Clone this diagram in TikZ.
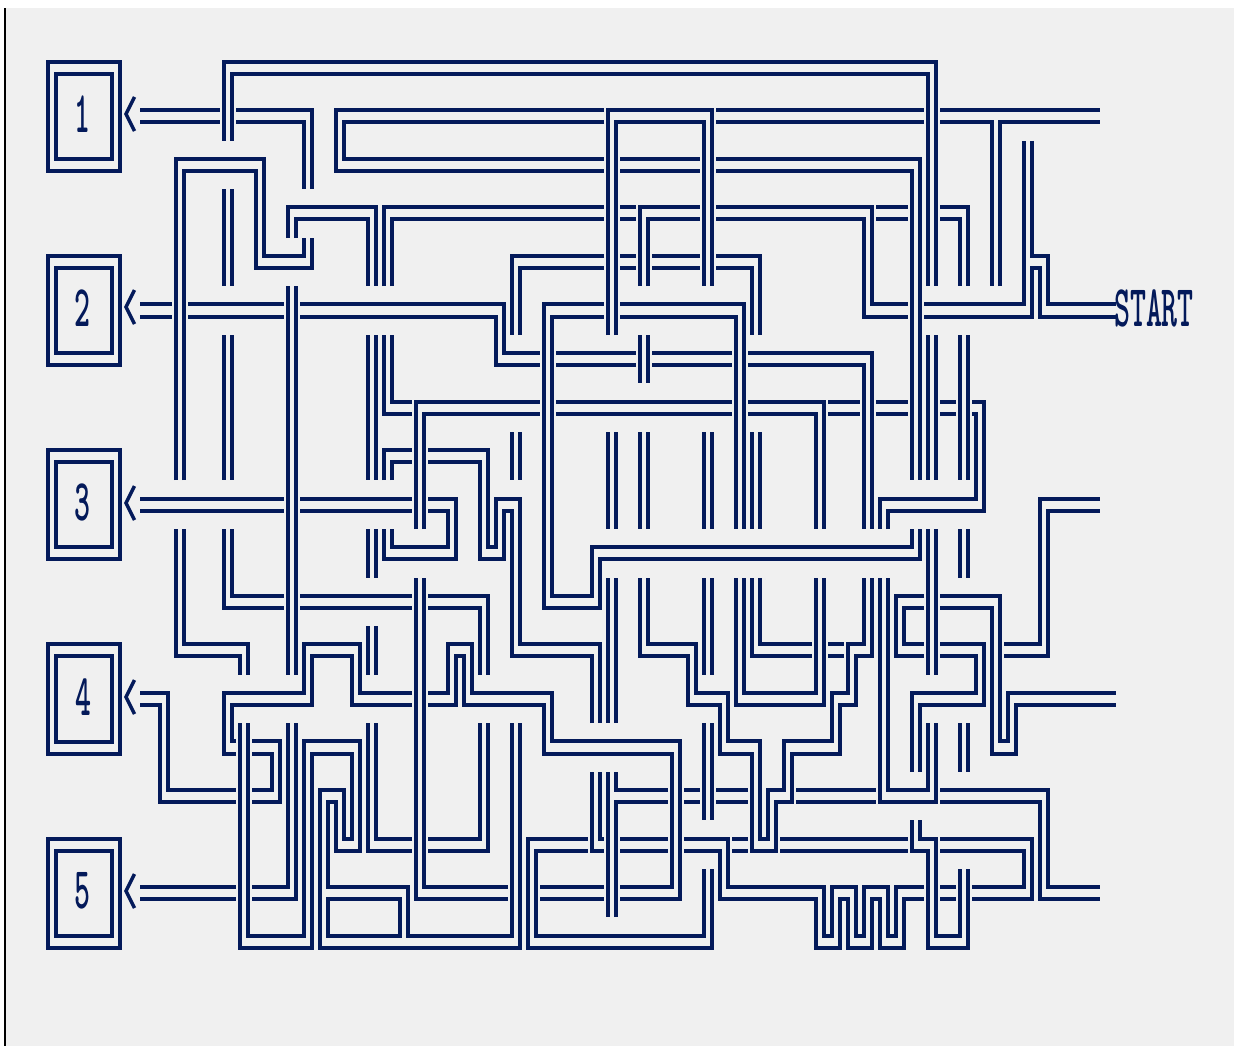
\documentclass[tikz,border=0pt]{standalone}
\usepackage{fontspec}
\definecolor{navy}{HTML}{041A5A}
\definecolor{panel}{HTML}{F0F0F0}
\newcommand{\wl}[1]{\draw[wire] plot coordinates {#1};}
\newcommand{\narrow}[1]{\scalebox{.515}[1]{#1}}
\tikzset{
  wire/.style={draw=navy,line width=4pt,line cap=butt,line join=miter,miter limit=10},
  chev/.style={draw=navy,line width=3.4pt,line cap=butt,line join=miter},
  lab/.style={text=navy,inner sep=0pt,font=\ttfamily\bfseries\fontsize{59}{59}\selectfont\addfontfeature{FakeBold=1.6}}
}
\begin{document}
\begin{tikzpicture}[x=1pt,y=-1pt]
\useasboundingbox (0,0) rectangle (1239,1046);
\fill[white] (0,0) rectangle (1239,1046);
\fill[panel] (6,8) rectangle (1234,1046);
\fill[black] (4,8) rectangle (6,1046);
% boxes
\foreach \t/\b/\tip in {62/171/114,256/365/307,450/559/503,644/754/697,839/948/891}{
  \draw[wire] (48,\t) rectangle (120,\b);
  \pgfmathtruncatemacro{\ti}{\t+12}
  \pgfmathtruncatemacro{\bi}{\b-12}
  \draw[wire] (56,\ti) rectangle (112,\bi);
  \pgfmathtruncatemacro{\au}{\tip-17}
  \pgfmathtruncatemacro{\ad}{\tip+17}
  \draw[chev] (134.5,\au) -- (126,\tip) -- (134.5,\ad);
}
\node[lab] (d1) at (82,114) {\narrow{1}};
\node[lab] (d2) at (82,308.5) {\narrow{2}};
\node[lab] (d3) at (82,502.5) {\narrow{3}};
\node[lab] (d4) at (83,697) {\narrow{4}};
\node[lab] (d5) at (82,891) {\narrow{5}};
\node[lab] (start) at (1154,308.5) {\narrow{START}};
% row 1 track
\wl{(140,110)(220,110)}
\wl{(236,110)(312,110)(312,189)}
\wl{(140,122)(220,122)}
\wl{(236,122)(304,122)(304,189)}
% top loop
\wl{(224,141)(224,62)(936,62)(936,286)}
\wl{(232,141)(232,74)(928,74)(928,286)}
\wl{(224,189)(224,286)}\wl{(232,189)(232,286)}
\wl{(224,335)(224,480)}\wl{(232,335)(232,480)}
\wl{(224,529)(224,608)(284,608)}\wl{(232,529)(232,596)(284,596)}
\wl{(300,596)(412,596)}\wl{(300,608)(412,608)}
\wl{(428,596)(488,596)(488,675)}\wl{(428,608)(480,608)(480,675)}
\wl{(480,723)(480,839)(428,839)}\wl{(488,723)(488,851)(428,851)}
\wl{(412,839)(376,839)(376,723)}\wl{(412,851)(368,851)(368,723)}
\wl{(368,626)(368,675)}\wl{(376,626)(376,675)}
\wl{(368,529)(368,578)}\wl{(376,529)(376,578)}
\wl{(368,335)(368,480)}\wl{(376,335)(376,480)}
\wl{(384,335)(384,414)(412,414)}\wl{(392,335)(392,402)(412,402)}
\wl{(296,238)(296,219)(368,219)(368,286)}\wl{(288,238)(288,207)(376,207)(376,286)}
\wl{(384,286)(384,207)(604,207)}\wl{(392,286)(392,219)(604,219)}
\wl{(620,207)(636,207)}\wl{(620,219)(636,219)}
\wl{(640,286)(640,207)(700,207)}\wl{(648,286)(648,219)(700,219)}
\wl{(716,207)(872,207)(872,304)(908,304)}
\wl{(716,219)(864,219)(864,317)(908,317)}
\wl{(876,207)(908,207)}\wl{(876,219)(908,219)}
\wl{(924,304)(1024,304)(1024,141)}
\wl{(924,317)(1032,317)(1032,268)(1040,268)(1040,317)(1116,317)}
\wl{(1032,141)(1032,256)(1048,256)(1048,304)(1116,304)}
\wl{(940,207)(968,207)(968,286)}\wl{(940,219)(960,219)(960,286)}
\wl{(960,335)(960,480)}\wl{(968,335)(968,480)}
\wl{(960,529)(960,578)}\wl{(968,529)(968,578)}
\wl{(960,723)(960,772)}\wl{(968,723)(968,772)}
\wl{(960,869)(960,936)(936,936)(936,839)(920,839)(920,820)}
\wl{(968,869)(968,948)(928,948)(928,851)(912,851)(912,820)}
% rows 110/122 right
\wl{(716,110)(924,110)}\wl{(716,122)(924,122)}
\wl{(940,110)(1100,110)}
\wl{(940,122)(992,122)(992,286)}
\wl{(1000,286)(1000,122)(1100,122)}
% rows 159/171
\wl{(620,159)(700,159)}\wl{(620,171)(700,171)}
\wl{(716,159)(920,159)(920,480)}\wl{(716,171)(912,171)(912,480)}
\wl{(604,110)(336,110)(336,171)(604,171)}
\wl{(604,122)(344,122)(344,159)(604,159)}
% 608/616 and 704/712
\wl{(608,335)(608,110)(712,110)(712,286)}
\wl{(616,335)(616,122)(704,122)(704,286)}
\wl{(608,432)(608,529)}\wl{(616,432)(616,529)}
\wl{(608,578)(608,723)}\wl{(616,578)(616,723)}
\wl{(608,772)(608,917)}
\wl{(616,772)(616,790)(668,790)}
\wl{(616,917)(616,802)(668,802)}
\wl{(640,335)(640,383)}\wl{(648,335)(648,383)}
\wl{(640,432)(640,529)}\wl{(648,432)(648,529)}
\wl{(704,432)(704,529)}\wl{(712,432)(712,529)}
\wl{(704,578)(704,675)}\wl{(712,578)(712,675)}
\wl{(704,723)(704,820)}\wl{(712,723)(712,820)}
\wl{(704,869)(704,936)(536,936)(536,851)(588,851)}
\wl{(712,869)(712,948)(528,948)(528,839)(588,839)}
% long S from 592/600
\wl{(592,723)(592,656)(512,656)(512,511)(504,511)(504,559)(480,559)(480,462)(428,462)}
\wl{(600,723)(600,644)(520,644)(520,499)(496,499)(496,547)(488,547)(488,450)(428,450)}
\wl{(592,772)(592,851)(604,851)}\wl{(600,772)(600,839)(604,839)}
\wl{(620,839)(668,839)}\wl{(620,851)(668,851)}
\wl{(684,839)(728,839)(728,887)(824,887)(824,936)(832,936)(832,887)(856,887)(856,936)(864,936)(864,887)(888,887)(888,936)(896,936)(896,887)(924,887)}
\wl{(684,851)(720,851)(720,899)(816,899)(816,948)(840,948)(840,899)(848,899)(848,948)(872,948)(872,899)(880,899)(880,948)(904,948)(904,899)(924,899)}
\wl{(732,839)(748,839)}\wl{(732,851)(748,851)}
\wl{(780,839)(908,839)}\wl{(780,851)(908,851)}
\wl{(940,887)(956,887)}\wl{(940,899)(956,899)}
\wl{(972,887)(1024,887)(1024,851)(940,851)}
\wl{(972,899)(1032,899)(1032,839)(940,839)}
% rows 790/802
\wl{(684,790)(700,790)}\wl{(684,802)(700,802)}
\wl{(716,790)(748,790)}\wl{(716,802)(748,802)}
\wl{(796,790)(876,790)}\wl{(796,802)(876,802)}
\wl{(940,790)(1048,790)(1048,887)(1100,887)}
\wl{(940,802)(1040,802)(1040,899)(1100,899)}
\wl{(928,723)(928,790)(888,790)(888,578)}
\wl{(936,723)(936,802)(880,802)(880,578)}
\wl{(880,529)(880,499)(976,499)(976,414)(972,414)}
\wl{(888,529)(888,511)(984,511)(984,402)(972,402)}
% rows 402/414
\wl{(940,402)(956,402)}\wl{(940,414)(956,414)}
\wl{(876,402)(908,402)}\wl{(876,414)(908,414)}
\wl{(828,402)(860,402)}\wl{(828,414)(860,414)}
\wl{(748,402)(824,402)(824,529)}\wl{(748,414)(816,414)(816,529)}
\wl{(556,402)(732,402)}\wl{(556,414)(732,414)}
\wl{(416,529)(416,402)(540,402)}\wl{(424,529)(424,414)(540,414)}
\wl{(928,335)(928,480)}\wl{(936,335)(936,480)}
\wl{(928,529)(928,675)}\wl{(936,529)(936,675)}
% 912/920 lower
\wl{(912,529)(912,547)(592,547)(592,596)(552,596)(552,317)(604,317)}
\wl{(920,529)(920,559)(600,559)(600,608)(544,608)(544,304)(604,304)}
\wl{(620,304)(744,304)(744,529)}\wl{(620,317)(736,317)(736,529)}
% box 2 track
\wl{(140,304)(172,304)}\wl{(140,317)(172,317)}
\wl{(188,304)(284,304)}\wl{(188,317)(284,317)}
\wl{(300,304)(504,304)(504,353)(540,353)}
\wl{(300,317)(496,317)(496,365)(540,365)}
\wl{(556,353)(636,353)}\wl{(556,365)(636,365)}
\wl{(652,353)(732,353)}\wl{(652,365)(732,365)}
\wl{(748,353)(872,353)(872,529)}\wl{(748,365)(864,365)(864,529)}
% rows 256/268
\wl{(604,256)(512,256)(512,335)}\wl{(604,268)(520,268)(520,335)}
\wl{(620,256)(636,256)}\wl{(620,268)(636,268)}
\wl{(652,256)(700,256)}\wl{(652,268)(700,268)}
\wl{(716,256)(760,256)(760,335)}\wl{(716,268)(752,268)(752,335)}
\wl{(512,432)(512,480)}\wl{(520,432)(520,480)}
\wl{(752,432)(752,529)}\wl{(760,432)(760,529)}
\wl{(752,578)(752,656)(812,656)}\wl{(760,578)(760,644)(812,644)}
\wl{(828,644)(844,644)}\wl{(828,656)(844,656)}
% funnel
\wl{(648,578)(648,644)(696,644)(696,693)(728,693)(728,741)(760,741)(760,839)(768,839)(768,790)(784,790)(784,741)(832,741)(832,693)(848,693)(848,644)(864,644)(864,578)}
\wl{(640,578)(640,656)(688,656)(688,705)(720,705)(720,754)(752,754)(752,851)(776,851)(776,802)(792,802)(792,754)(840,754)(840,705)(856,705)(856,656)(872,656)(872,578)}
\wl{(736,578)(736,705)(824,705)(824,578)}
\wl{(744,578)(744,693)(816,693)(816,578)}
% right middle
\wl{(924,596)(896,596)(896,656)(924,656)}
\wl{(924,608)(904,608)(904,644)(924,644)}
\wl{(940,596)(1000,596)(1000,741)(1008,741)(1008,693)(1116,693)}
\wl{(940,608)(992,608)(992,754)(1016,754)(1016,705)(1116,705)}
\wl{(940,644)(984,644)(984,705)(920,705)(920,772)}
\wl{(940,656)(976,656)(976,693)(912,693)(912,772)}
\wl{(1004,644)(1040,644)(1040,499)(1100,499)}
\wl{(1004,656)(1048,656)(1048,511)(1100,511)}
% box 3 track
\wl{(140,499)(284,499)}\wl{(140,511)(284,511)}
\wl{(300,499)(412,499)}\wl{(300,511)(412,511)}
\wl{(428,499)(456,499)(456,559)(384,559)(384,529)}
\wl{(428,511)(448,511)(448,547)(392,547)(392,529)}
\wl{(384,480)(384,450)(412,450)}\wl{(392,480)(392,462)(412,462)}
\wl{(416,578)(416,899)(508,899)}\wl{(424,578)(424,887)(508,887)}
\wl{(540,887)(604,887)}\wl{(540,899)(604,899)}
\wl{(620,887)(672,887)(672,754)(544,754)(544,705)(464,705)(464,656)(456,656)(456,705)(428,705)}
\wl{(620,899)(680,899)(680,741)(552,741)(552,693)(472,693)(472,644)(448,644)(448,693)(428,693)}
% box 4 track
\wl{(412,693)(360,693)(360,644)(304,644)(304,693)(224,693)(224,754)(236,754)}
\wl{(412,705)(352,705)(352,656)(312,656)(312,705)(232,705)(232,741)(236,741)}
\wl{(252,741)(280,741)(280,802)(252,802)}
\wl{(252,754)(272,754)(272,790)(252,790)}
\wl{(140,693)(168,693)(168,790)(236,790)}
\wl{(140,705)(160,705)(160,802)(236,802)}
% box 5 track
\wl{(140,887)(236,887)}\wl{(140,899)(236,899)}
\wl{(252,887)(288,887)(288,723)}\wl{(252,899)(296,899)(296,723)}
\wl{(288,286)(288,675)}\wl{(296,286)(296,675)}
\wl{(248,723)(248,936)(304,936)(304,741)(360,741)(360,851)(336,851)(336,802)(328,802)(328,887)(408,887)(408,936)(512,936)(512,723)}
\wl{(240,723)(240,948)(312,948)(312,754)(352,754)(352,839)(344,839)(344,790)(320,790)(320,948)(520,948)(520,723)}
\draw[wire] (328,899) rectangle (400,936);
% left loop
\wl{(176,480)(176,159)(264,159)(264,256)(304,256)(304,238)}
\wl{(184,480)(184,171)(256,171)(256,268)(312,268)(312,238)}
\wl{(176,529)(176,656)(240,656)(240,675)}
\wl{(184,529)(184,644)(248,644)(248,675)}
\end{tikzpicture}
\end{document}
